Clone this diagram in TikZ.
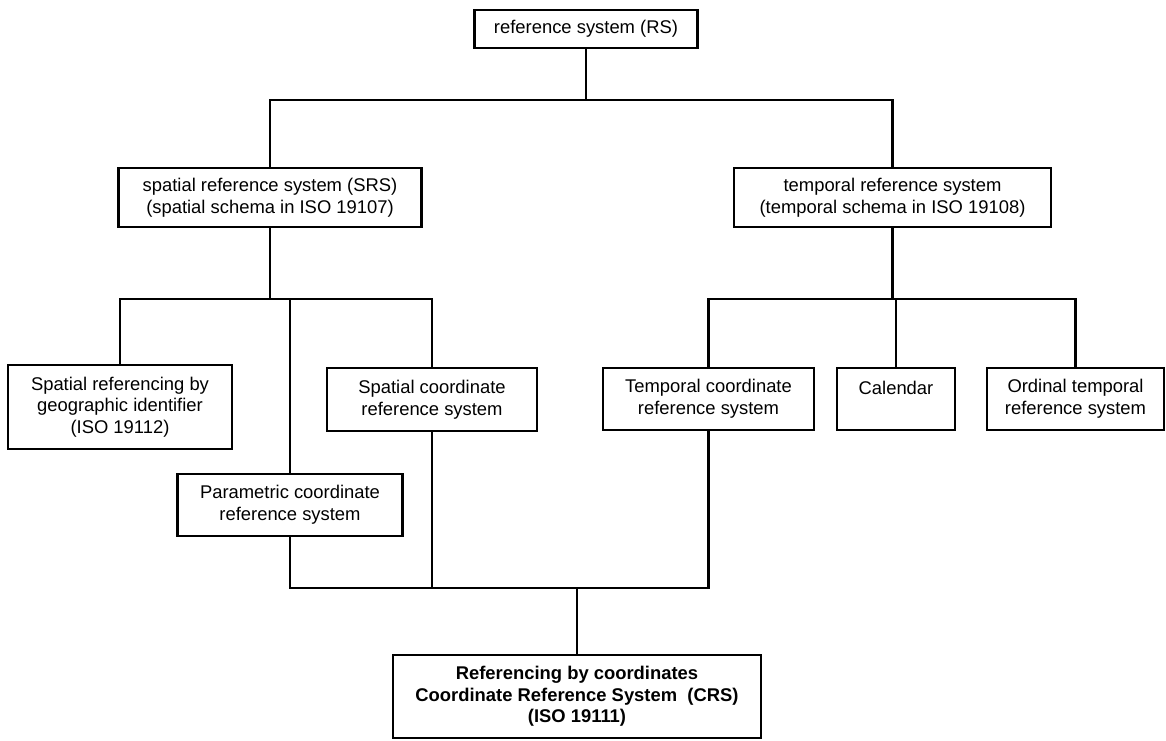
\documentclass[tikz,border=0pt]{standalone}
\usepackage{fontspec}
\setmainfont{Liberation Sans}
\usetikzlibrary{calc}

\begin{document}
\begin{tikzpicture}[x=0.5pt,y=-0.5pt,
    box/.style={draw,line width=1.1pt,align=center,inner sep=0pt,
      font=\fontsize{9.2}{10.85}\selectfont},
    link/.style={line width=1.1pt}]
\useasboundingbox (0,0) rectangle (1166,740);
\node[box,minimum width=111.5pt,minimum height=19pt] (rs) at (586,29) {reference system (RS)};
\node[box,minimum width=151.5pt,minimum height=29.5pt] (srs) at (270,197.5) {spatial reference system (SRS)\\(spatial schema in ISO 19107)};
\node[box,minimum width=158.5pt,minimum height=29.5pt] (trs) at (892.5,197.5) {temporal reference system\\(temporal schema in ISO 19108)};
\node[box,minimum width=112pt,minimum height=42pt] (geo) at (120,407) {Spatial referencing by\\geographic identifier\\(ISO 19112)};
\node[box,minimum width=105pt,minimum height=31.5pt] (scrs) at (432,399.5) {Spatial coordinate\\reference system};
\node[box,minimum width=112.5pt,minimum height=31pt] (pcrs) at (290,505) {Parametric coordinate\\reference system};
\node[box,minimum width=105.5pt,minimum height=31pt] (tcrs) at (708.5,399) {Temporal coordinate\\reference system};
\node[box,minimum width=59pt,minimum height=31pt] (cal) at (896,399) {Calendar\\\mbox{}};
\node[box,minimum width=88.5pt,minimum height=31pt] (ord) at (1075.5,399) {Ordinal temporal\\reference system};
\node[box,minimum width=184pt,minimum height=41.5pt,font=\fontsize{9.2}{10.85}\selectfont\bfseries] (crs) at (577,696.5) {Referencing by coordinates\\Coordinate Reference System\ \ (CRS)\\(ISO 19111)};
\coordinate (top) at (586,100);
\coordinate (sbus) at (srs.south |- 0,299);
\coordinate (tbus) at (trs.south |- sbus);
\coordinate (cbus) at (crs.north |- 0,588);
\draw[link] (rs) -- (top);
\draw[link] (srs.north) |- (top) -| (trs.north);
\draw[link] (srs) -- (sbus);
\draw[link] (geo.north) |- (sbus) -| (scrs.north);
\draw[link] (pcrs.north) -- (pcrs.north |- sbus);
\draw[link] (trs) -- (tbus);
\draw[link] (tcrs.north) |- (tbus) -| (ord.north);
\draw[link] (cal.north) -- (cal.north |- tbus);
\draw[link] (pcrs.south) |- (cbus) -| (tcrs.south);
\draw[link] (scrs.south) -- (scrs.south |- cbus);
\draw[link] (cbus) -- (crs);
\end{tikzpicture}
\end{document}
